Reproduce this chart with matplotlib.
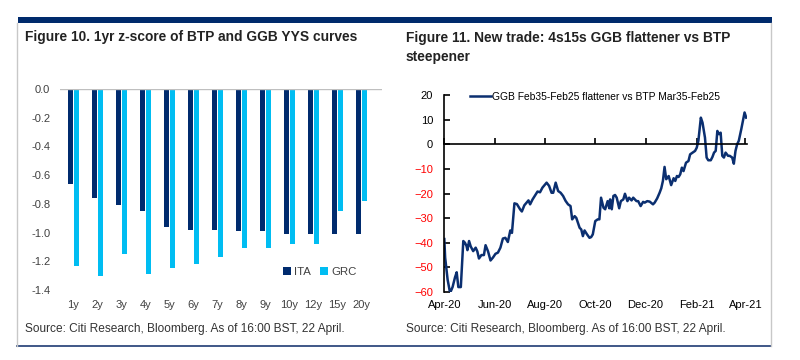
import numpy as np
import pandas as pd
import matplotlib
matplotlib.use('Agg')
import matplotlib.pyplot as plt
import matplotlib.dates as mdates
from matplotlib.lines import Line2D
from matplotlib.patches import Rectangle

# Figure 10 data: 1yr z-score by tenor
tenors = ['1y', '2y', '3y', '4y', '5y', '6y', '7y', '8y', '9y', '10y', '12y', '15y', '20y']
ita = [-0.66, -0.76, -0.81, -0.85, -0.96, -0.98, -0.98, -0.99, -0.99, -1.01, -1.01, -1.01, -1.01]
grc = [-1.23, -1.30, -1.15, -1.29, -1.25, -1.22, -1.17, -1.11, -1.11, -1.08, -1.08, -0.85, -0.78]
ytick_vals = [0.0, -0.2, -0.4, -0.6, -0.8, -1.0, -1.2, -1.4]

# Figure 11 data: days since 1 Apr 2020 and spread (bp)
day_offsets = [0, 1, 4, 7, 10, 13, 15, 17, 20, 23, 25, 27, 28, 30, 32, 35, 38, 40, 42, 45,
               48, 50, 53, 56, 59, 62, 65, 68, 71, 74, 77, 80, 82, 85, 88, 92, 94, 97, 102, 104,
               107, 110, 113, 116, 119, 124, 127, 130, 132, 135, 138, 141, 144, 147, 150, 153, 155, 158, 160, 164,
               166, 168, 170, 173, 176, 178, 180, 183, 186, 188, 190, 193, 195, 198, 200, 201, 203, 205, 207, 209,
               212, 214, 217, 219, 222, 224, 227, 229, 233, 235, 238, 241, 243, 246, 249, 253, 255, 258, 261, 263,
               265, 267, 269, 272, 275, 278, 280, 282, 284, 286, 288, 290, 293, 296, 298, 301, 304, 306, 308, 311,
               313, 316, 318, 320, 323, 325, 327, 329, 331, 333, 335, 337, 339, 341, 344, 346, 349, 351, 353, 355,
               357, 360, 362, 364, 366]
spread = [-38.5, -46, -55, -60.4, -58, -54, -52, -58, -58, -39.3, -40, -41.4, -43, -39.3, -41.5, -43.4, -42, -43.5, -46.4, -45,
          -45, -41, -43.5, -47.2, -46, -44.5, -44, -42, -38.3, -38, -39.7, -35, -36, -24, -24.3, -26.5, -27.3, -24.8, -22.8, -24.4,
          -22.4, -20.8, -19.2, -19.5, -17.6, -15.6, -16.9, -19.7, -19.7, -15.6, -19, -19.7, -21, -23, -24.4, -25.1, -30.5, -29.2, -29.9, -33.9,
          -34.6, -37.3, -35, -36.6, -38, -37.7, -36.6, -31.2, -30.5, -30.5, -21.7, -25.8, -26.4, -23.1, -26, -22.4, -26.4, -21, -20.6, -21.7,
          -26, -23.1, -22.4, -20.1, -23.1, -21.7, -22.8, -21.7, -23.1, -23.1, -25.1, -23.4, -23.7, -23.1, -23.3, -24.4, -23.7, -22, -19.7, -17.9,
          -14.9, -9.2, -14.2, -12.9, -16.6, -13.8, -14.9, -12.9, -13.3, -12.2, -9.5, -10.9, -7.5, -6.8, -4.1, -3.4, -2.7, -1.4, 1.4, 10.8,
          8.8, 2.7, -5.4, -6.5, -6.5, -5.2, -3.4, -2.7, 5.4, 4.1, 4.7, -4.7, -5.4, -3.4, -4.7, -4.7, -5.4, -7.9, -2.7, 0,
          1.4, 6.1, 9.5, 12.9, 10.8]

start = pd.Timestamp('2020-04-01')
dates = start + pd.to_timedelta(day_offsets, unit='D')

navy = '#002B6E'
cyan = '#00BDF2'
label_grey = '#404040'
plt.rcParams['font.family'] = ['Liberation Sans', 'DejaVu Sans']

fig = plt.figure(figsize=(8, 3.6), dpi=100)

# frame around both panels
fig.add_artist(Rectangle((18 / 800, 1 - 23 / 360), 754 / 800, 6 / 360, transform=fig.transFigure,
                         color='#002A6C', lw=0))
fig.add_artist(Line2D([17 / 800, 771 / 800], [1 - 346 / 360] * 2, transform=fig.transFigure,
                      color='#1F3B73', lw=1.2))
for xp in (17, 771):
    fig.add_artist(Line2D([xp / 800] * 2, [1 - 346 / 360, 1 - 23 / 360], transform=fig.transFigure,
                          color='#C8C8C8', lw=1))

# ---- Figure 10: bars ----
ax1 = fig.add_axes([0.075, 0.1944, 0.4025, 0.5583])
x = np.arange(len(tenors))
w = 0.21
ax1.bar(x - 0.135, ita, width=w, color=navy, label='ITA')
ax1.bar(x + 0.135, grc, width=w, color=cyan, label='GRC')
ax1.set_xlim(-0.56, 12.86)
ax1.set_ylim(-1.4, 0)
ax1.set_yticks(ytick_vals)
ax1.set_yticklabels([f'{v:.1f}' if v != 0 else '0.0' for v in ytick_vals])
ax1.set_xticks(x)
ax1.set_xticklabels(tenors)
for s in ax1.spines.values():
    s.set_visible(False)
ax1.axhline(0, color='#BFBFBF', lw=1)
ax1.tick_params(axis='both', length=0, labelsize=8, colors=label_grey)
ax1.tick_params(axis='y', pad=7)
ax1.tick_params(axis='x', pad=7)
ax1.legend(loc='center left', bbox_to_anchor=(0.66, 0.09), ncol=2, frameon=False,
           handlelength=0.7, handleheight=0.7, handletextpad=0.3, columnspacing=0.8,
           prop={'size': 8.2}, labelcolor=label_grey)

fig.text(25 / 800, 1 - 37 / 360, 'Figure 10. 1yr z-score of BTP and GGB YYS curves',
         weight='bold', fontsize=9.9, color='#222222', va='center')
fig.text(25 / 800, 1 - 329 / 360, 'Source: Citi Research, Bloomberg. As of 16:00 BST, 22 April.',
         fontsize=8.6, color='#333333', va='center')

# ---- Figure 11: line ----
ax2 = fig.add_axes([0.5554, 0.1889, 0.3784, 0.5472])
ax2.plot(dates, spread, color='#0B2F70', lw=1.8,
         label='GGB Feb35-Feb25 flattener vs BTP Mar35-Feb25')
ax2.set_xlim(start, start + pd.Timedelta(days=367))
ax2.set_ylim(-60, 20)
ax2.set_yticks(np.arange(-60, 21, 10))
for s in ('top', 'right'):
    ax2.spines[s].set_visible(False)
ax2.spines['bottom'].set_position(('data', 0))
ax2.spines['bottom'].set_linewidth(1.2)
ax2.spines['left'].set_linewidth(1.2)
ax2.xaxis.set_major_locator(mdates.MonthLocator(bymonth=[2, 4, 6, 8, 10, 12]))
ax2.tick_params(axis='x', direction='in', length=4, width=1.2, labelbottom=False)
ax2.tick_params(axis='y', direction='in', length=4, width=1.2, labelsize=8, pad=8)
for lab, v in zip(ax2.get_yticklabels(), ax2.get_yticks()):
    lab.set_color('red' if v < 0 else 'black')

sec = ax2.secondary_xaxis(0.0)
sec.xaxis.set_major_locator(mdates.MonthLocator(bymonth=[2, 4, 6, 8, 10, 12]))
sec.xaxis.set_major_formatter(mdates.DateFormatter('%b-%y'))
sec.spines['bottom'].set_visible(False)
sec.tick_params(axis='x', length=0, labelsize=8, pad=6)

ax2.legend(loc='center left', bbox_to_anchor=(0.055, 0.99), frameon=False,
           handlelength=2.0, handletextpad=0.1, prop={'size': 7.4})

fig.text(406 / 800, 1 - 47.5 / 360, 'Figure 11. New trade: 4s15s GGB flattener vs BTP\nsteepener',
         weight='bold', fontsize=9.9, color='#222222', va='center', linespacing=1.5)
fig.text(406 / 800, 1 - 329 / 360, 'Source: Citi Research, Bloomberg. As of 16:00 BST, 22 April.',
         fontsize=8.6, color='#333333', va='center')

fig.savefig('out.png', dpi=100)
